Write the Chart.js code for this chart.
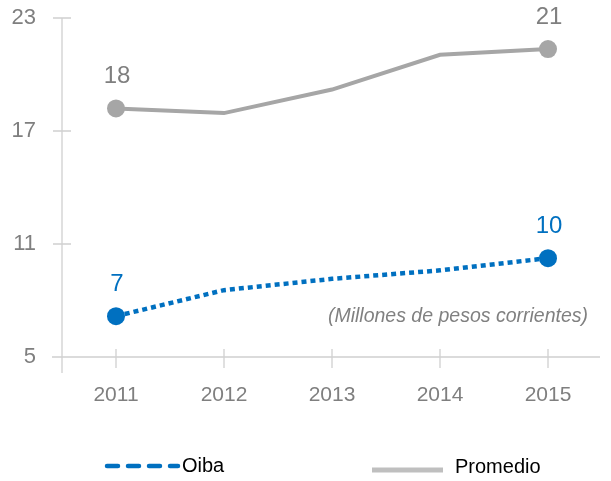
<!DOCTYPE html>
<html><head><meta charset="utf-8">
<script src="https://cdn.jsdelivr.net/npm/chart.js@4"></script>
<style>html,body{margin:0;padding:0;background:#fff}#c{display:block}</style>
</head><body>
<canvas id="c" width="611" height="481"></canvas>
<script>
const categories = ['2011','2012','2013','2014','2015'];
const oiba = [7.17, 8.55, 9.15, 9.6, 10.25];
const promedio = [18.2, 17.95, 19.2, 21.05, 21.35];
const oibaLabels = ['7', '', '', '', '10'];
const promedioLabels = ['18', '', '', '', '21'];
const yTicks = [5, 11, 17, 23];
const unitNote = '(Millones de pesos corrientes)';

const FONT = '"Liberation Sans", Arial, sans-serif';
const AXIS = '#d0d0d0';

const axesPlugin = {
  id: 'axesPlugin',
  beforeDatasetsDraw(chart) {
    const ctx = chart.ctx, x = chart.scales.x, y = chart.scales.y;
    const left = chart.chartArea.left, right = chart.chartArea.right;
    const bottom = y.getPixelForValue(5);
    ctx.save();
    ctx.strokeStyle = AXIS; ctx.lineWidth = 1.3;
    ctx.beginPath();
    ctx.moveTo(left, y.getPixelForValue(23)); ctx.lineTo(left, bottom + 16);
    ctx.moveTo(left - 10, bottom); ctx.lineTo(right - 2, bottom);
    yTicks.forEach(v => { const p = y.getPixelForValue(v); ctx.moveTo(left - 9, p); ctx.lineTo(left + 9, p); });
    categories.forEach((c, i) => { const p = x.getPixelForValue(i); ctx.moveTo(p, bottom - 8); ctx.lineTo(p, bottom + 11); });
    ctx.stroke();
    ctx.restore();
  },
  afterDraw(chart) {
    const ctx = chart.ctx;
    ctx.save();
    const sets = [[0, promedioLabels, '#7f7f7f'], [1, oibaLabels, '#0070c0']];
    ctx.textAlign = 'center'; ctx.textBaseline = 'middle';
    ctx.font = '24px ' + FONT;
    sets.forEach(([di, labels, col]) => {
      const meta = chart.getDatasetMeta(di);
      meta.data.forEach((pt, i) => {
        if (!labels[i]) return;
        ctx.fillStyle = col;
        ctx.fillText(labels[i], pt.x + 1, pt.y - 32);
      });
    });
    ctx.font = 'italic 19.5px ' + FONT;
    ctx.fillStyle = '#808080';
    ctx.textAlign = 'right';
    ctx.fillText(unitNote, 588, 317);
    ctx.lineCap = 'round';
    ctx.strokeStyle = '#0070c0'; ctx.lineWidth = 4.5;
    ctx.setLineDash([11, 10]);
    ctx.beginPath(); ctx.moveTo(107, 466); ctx.lineTo(178, 466); ctx.stroke();
    ctx.setLineDash([]);
    ctx.lineCap = 'butt';
    ctx.strokeStyle = '#bfbfbf'; ctx.lineWidth = 5;
    ctx.beginPath(); ctx.moveTo(372, 470); ctx.lineTo(443, 470); ctx.stroke();
    ctx.font = '20px ' + FONT; ctx.fillStyle = '#000'; ctx.textAlign = 'left';
    ctx.fillText('Oiba', 182, 466);
    ctx.fillText('Promedio', 455, 467);
    ctx.restore();
  }
};

new Chart(document.getElementById('c'), {
  type: 'line',
  data: {
    labels: categories,
    datasets: [
      { label: 'Promedio', data: promedio, borderColor: '#a6a6a6', backgroundColor: '#a6a6a6',
        borderWidth: 4, pointRadius: [9, 0, 0, 0, 9], pointHoverRadius: [9,0,0,0,9], pointBorderWidth: 0, tension: 0 },
      { label: 'Oiba', data: oiba, borderColor: '#0070c0', backgroundColor: '#0070c0',
        borderWidth: 4.5, borderDash: [5, 4], pointRadius: [9, 0, 0, 0, 9], pointHoverRadius: [9,0,0,0,9], pointBorderWidth: 0, tension: 0 }
    ]
  },
  options: {
    responsive: false, animation: false,
    layout: { padding: { top: 18, right: 7, bottom: 0, left: 0 } },
    plugins: { legend: { display: false }, tooltip: { enabled: false } },
    scales: {
      x: {
        offset: true,
        grid: { display: false, drawTicks: false },
        border: { display: false },
        ticks: { color: '#7f7f7f', font: { family: FONT, size: 21 }, padding: 26 },
        afterFit(s) { s.height = 124; s.paddingLeft = 0; s.paddingRight = 0; }
      },
      y: {
        min: 5, max: 23,
        grid: { display: false, drawTicks: false },
        border: { display: false },
        ticks: { stepSize: 6, color: '#7f7f7f', font: { family: FONT, size: 22 }, padding: 26 },
        afterFit(s) { s.width = 62; s.paddingTop = 0; s.paddingBottom = 0; }
      }
    }
  },
  plugins: [axesPlugin]
});
</script>
</body></html>
